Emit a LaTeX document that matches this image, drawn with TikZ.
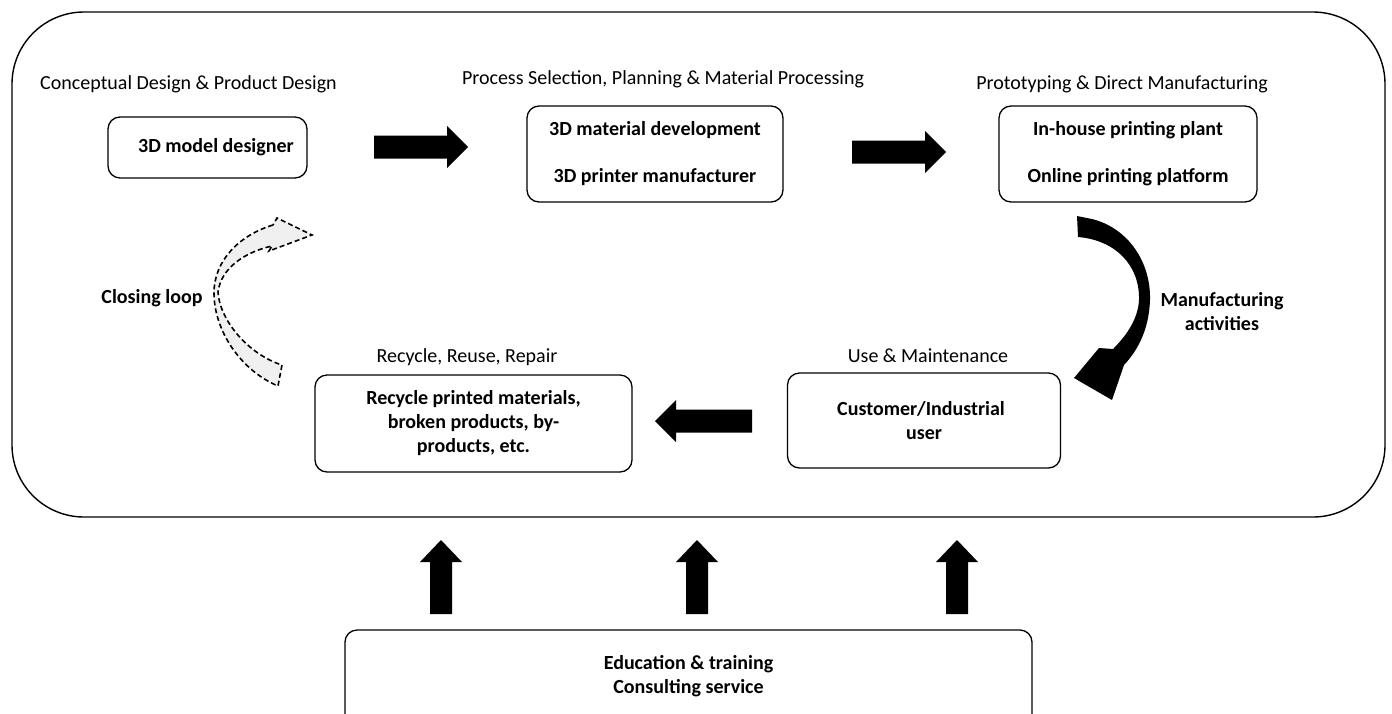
\documentclass[tikz,border=0pt]{standalone}
\usepackage{fontspec}
\setmainfont{Carlito}
\newcommand\rightblock[3]{\fill (#1,#3-11.5) -- (#2-21,#3-11.5) -- (#2-21,#3-21) -- (#2,#3) -- (#2-21,#3+21) -- (#2-21,#3+11.5) -- (#1,#3+11.5) -- cycle;}
\newcommand\leftblock[3]{\fill (#1,#3-11.5) -- (#2+21,#3-11.5) -- (#2+21,#3-21) -- (#2,#3) -- (#2+21,#3+21) -- (#2+21,#3+11.5) -- (#1,#3+11.5) -- cycle;}
\newcommand\upblock[3]{\fill (#1-11,#2) -- (#1-11,#3+22) -- (#1-21,#3+22) -- (#1,#3) -- (#1+21,#3+22) -- (#1+11,#3+22) -- (#1+11,#2) -- cycle;}
\begin{document}
\begin{tikzpicture}[x=1pt,y=-1pt,
  box/.style={draw, line width=1.3pt, rounded corners=12pt, align=center,
    font=\fontsize{20}{24}\selectfont\bfseries, inner sep=0pt},
  head/.style={font=\fontsize{20}{24}\selectfont, inner sep=0pt, anchor=base},
  btxt/.style={font=\fontsize{20}{24}\selectfont\bfseries, inner sep=0pt, align=center}]
\useasboundingbox (0,0) rectangle (1392,713);
\clip (0,0) rectangle (1392,713);
% outer frame
\draw[line width=1.4pt, rounded corners=72pt] (12,12) rectangle (1385,517);
% headings
\node[head] (h1) at (188.5,89) {Conceptual Design \& Product Design};
\node[head] (h2) at (663,84) {Process Selection, Planning \& Material Processing};
\node[head] (h3) at (1122,89) {Prototyping \& Direct Manufacturing};
\node[head] (h4) at (467,362) {Recycle, Reuse, Repair};
\node[head] (h5) at (928,362) {Use \& Maintenance};
% boxes
\node[box, minimum width=199pt, minimum height=61pt] (designer) at (207.5,147.5) {\hspace*{17pt}3D model designer};
\node[box, minimum width=256pt, minimum height=96pt] (material) at (655,154) {3D material development\\[23pt]3D printer manufacturer};
\node[box, minimum width=258pt, minimum height=96pt] (print) at (1128,154) {In-house printing plant\\[23pt]Online printing platform};
\node[box, minimum width=317pt, minimum height=97pt] (recycle) at (473.5,423.5) {Recycle printed materials,\\broken products, by-\\products, etc.};
\node[box, minimum width=273pt, minimum height=95pt] (customer) at (924,420.5) {Customer/Industrial\hspace*{6pt}\\user};
\node[draw, line width=1.3pt, rounded corners=12pt, minimum width=687pt, minimum height=100pt] (edu) at (688.5,680) {};
\node[btxt] (edutxt) at (688.5,676) {Education \& training\\Consulting service};
% labels
\node[btxt] (closing) at (152,298) {Closing loop};
\node[btxt] (manuf) at (1222,312) {Manufacturing\\activities};
% straight block arrows
\rightblock{374}{468}{147}
\rightblock{852}{946}{152}
\leftblock{752}{655}{421}
\upblock{441}{614}{540}
\upblock{697}{614}{540}
\upblock{957}{614}{540}
% curved black arrow
\fill (1077,216) -- (1092,219) .. controls (1128,228) and (1151,262) .. (1150,300)
  .. controls (1149,328) and (1139,349) .. (1124,365)
  -- (1112,400) -- (1074,378) -- (1099,348) -- (1113,349)
  .. controls (1128,334) and (1138,318) .. (1139,300)
  .. controls (1140,265) and (1115,240) .. (1078,237) -- cycle;
% closing loop dashed arrow
\draw[fill=black!6, line width=1.6pt, dash pattern=on 5pt off 3pt, line join=miter]
  (273,225) .. controls (240,235) and (214,260) .. (214,293)
  .. controls (214,330) and (240,370) .. (278,386) -- (282,365)
  .. controls (250,355) and (220,322) .. (218,292)
  .. controls (221,268) and (245,252) .. (272,246)
  -- (269,251) -- (312,235) -- (277,218) -- cycle;
\end{tikzpicture}
\end{document}
